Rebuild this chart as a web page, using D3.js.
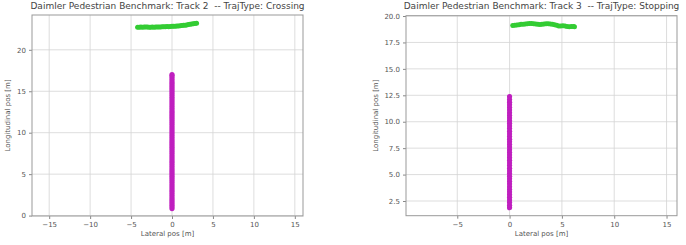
<!DOCTYPE html>
<html><head><meta charset="utf-8">
<script src="https://cdn.jsdelivr.net/npm/d3@7"></script>
<style>body{margin:0;background:#fff;}svg{display:block;font-family:"DejaVu Sans",sans-serif;}text{white-space:pre;}</style>
</head><body>
<svg id="c" width="686" height="245"></svg>
<script>
// Track 2 (Crossing)
const t2Title = "Daimler Pedestrian Benchmark: Track 2  -- TrajType: Crossing";
const t2XTicks = [-15, -10, -5, 0, 5, 10, 15];
const t2YTicks = [0, 5, 10, 15, 20];
const t2PedX = [-4.2,-4.0,-3.8,-3.6,-3.4,-3.2,-3.0,-2.8,-2.6,-2.4,-2.2,-2.0,-1.8,-1.6,-1.4,-1.2,-1.0,-0.8,-0.6,-0.4,-0.2,0.0,0.2,0.4,0.6,0.8,1.0,1.2,1.4,1.6,1.8,2.0,2.2,2.4,2.6,2.8,3.0];
const t2PedY = [22.72,22.73,22.74,22.73,22.75,22.74,22.74,22.72,22.73,22.74,22.73,22.74,22.76,22.75,22.75,22.77,22.78,22.79,22.80,22.79,22.81,22.83,22.84,22.85,22.86,22.88,22.90,22.93,22.95,22.97,23.00,23.04,23.08,23.12,23.15,23.18,23.21];
const t2EgoX = [0,0,0,0,0,0,0,0,0,0,0,0,0,0,0,0,0,0,0,0,0,0,0,0,0,0,0,0,0,0,0,0,0,0,0,0,0,0,0,0,0,0,0,0,0,0,0,0,0,0,0,0,0,0,0,0,0,0,0,0,0,0,0,0,0,0];
const t2EgoY = [0.85,1.1,1.35,1.6,1.85,2.1,2.35,2.6,2.85,3.1,3.35,3.6,3.85,4.1,4.35,4.6,4.85,5.1,5.35,5.6,5.85,6.1,6.35,6.6,6.85,7.1,7.35,7.6,7.85,8.1,8.35,8.6,8.85,9.1,9.35,9.6,9.85,10.1,10.35,10.6,10.85,11.1,11.35,11.6,11.85,12.1,12.35,12.6,12.85,13.1,13.35,13.6,13.85,14.1,14.35,14.6,14.85,15.1,15.35,15.6,15.85,16.1,16.35,16.6,16.85,17.0];
// Track 3 (Stopping)
const t3Title = "Daimler Pedestrian Benchmark: Track 3  -- TrajType: Stopping";
const t3XTicks = [-5, 0, 5, 10, 15];
const t3YTicks = [2.5, 5.0, 7.5, 10.0, 12.5, 15.0, 17.5, 20.0];
const t3PedX = [0.3,0.5,0.7,0.9,1.1,1.3,1.5,1.7,1.9,2.1,2.3,2.5,2.7,2.9,3.1,3.3,3.5,3.7,3.9,4.1,4.3,4.5,4.7,4.9,5.1,5.3,5.5,5.7,5.9,6.1,6.2];
const t3PedY = [19.10,19.12,19.15,19.18,19.21,19.23,19.24,19.27,19.29,19.30,19.28,19.25,19.22,19.20,19.21,19.24,19.27,19.26,19.25,19.22,19.18,19.12,19.06,19.05,19.08,19.06,19.02,18.99,19.00,19.01,18.98];
const t3EgoX = [0,0,0,0,0,0,0,0,0,0,0,0,0,0,0,0,0,0,0,0,0,0,0,0,0,0,0,0,0,0,0,0,0,0,0,0,0,0,0,0,0,0,0];
const t3EgoY = [1.87,2.1,2.35,2.6,2.85,3.1,3.35,3.6,3.85,4.1,4.35,4.6,4.85,5.1,5.35,5.6,5.85,6.1,6.35,6.6,6.85,7.1,7.35,7.6,7.85,8.1,8.35,8.6,8.85,9.1,9.35,9.6,9.85,10.1,10.35,10.6,10.85,11.1,11.35,11.6,11.85,12.1,12.37];

const svg = d3.select("#c");
const pedColor = "#33cc33", egoColor = "#bf1fbf";

function panel(o) {
  const g = svg.append("g");
  const x = d3.scaleLinear().domain(o.xDom).range([o.left, o.right]);
  const y = d3.scaleLinear().domain(o.yDom).range([o.bottom, o.top]);
  // grid
  g.append("g").selectAll("line").data(o.xTicks).join("line")
    .attr("x1", d => x(d)).attr("x2", d => x(d)).attr("y1", o.top).attr("y2", o.bottom)
    .attr("stroke", "#d4d4d4").attr("stroke-width", 0.8);
  g.append("g").selectAll("line").data(o.yTicks).join("line")
    .attr("y1", d => y(d)).attr("y2", d => y(d)).attr("x1", o.left).attr("x2", o.right)
    .attr("stroke", "#d4d4d4").attr("stroke-width", 0.8);
  // axes
  const xa = g.append("g").attr("transform", `translate(0,${o.bottom})`)
    .call(d3.axisBottom(x).tickValues(o.xTicks).tickSize(3).tickPadding(3).tickFormat(d => String(d).replace("-", "\u2212")));
  const ya = g.append("g").attr("transform", `translate(${o.left},0)`)
    .call(d3.axisLeft(y).tickValues(o.yTicks).tickSize(3).tickPadding(3).tickFormat(o.yFmt));
  [xa, ya].forEach(a => {
    a.select(".domain").remove();
    a.selectAll("line").attr("stroke", "#888");
    a.selectAll("text").attr("fill", "#555").attr("font-size", 7).attr("font-family", "DejaVu Sans, sans-serif");
  });
  g.append("rect").attr("x", o.left).attr("y", o.top).attr("width", o.right - o.left).attr("height", o.bottom - o.top)
    .attr("fill", "none").attr("stroke", "#999").attr("stroke-width", 1);
  // data
  const ego = o.egoX.map((v, i) => [v, o.egoY[i]]);
  const ped = o.pedX.map((v, i) => [v, o.pedY[i]]);
  g.append("g").selectAll("circle").data(ego).join("circle")
    .attr("cx", d => x(d[0])).attr("cy", d => y(d[1])).attr("r", 2.6).attr("fill", egoColor);
  g.append("g").selectAll("circle").data(ped).join("circle")
    .attr("cx", d => x(d[0])).attr("cy", d => y(d[1])).attr("r", 2.5).attr("fill", pedColor);
  // labels
  g.append("text").attr("x", (o.left + o.right) / 2).attr("y", 9).attr("text-anchor", "middle")
    .attr("font-size", 9).attr("fill", "#444").text(o.title);
  g.append("text").attr("x", (o.left + o.right) / 2).attr("y", 236).attr("text-anchor", "middle")
    .attr("font-size", 7).attr("fill", "#555").text("Lateral pos [m]");
  g.append("text").attr("transform", `translate(${o.ylabX},${(o.top + o.bottom) / 2}) rotate(-90)`)
    .attr("text-anchor", "middle").attr("font-size", 7).attr("fill", "#555").text("Longitudinal pos [m]");
}

panel({title: t2Title, xTicks: t2XTicks, yTicks: t2YTicks, xDom: [-17.1, 16.0], yDom: [-0.05, 24.2],
  left: 32, right: 303, top: 15, bottom: 216, ylabX: 10, yFmt: d3.format("d"),
  pedX: t2PedX, pedY: t2PedY, egoX: t2EgoX, egoY: t2EgoY});
panel({title: t3Title, xTicks: t3XTicks, yTicks: t3YTicks, xDom: [-9.9, 16.0], yDom: [1.11, 20.03],
  left: 406, right: 677, top: 15.7, bottom: 215.7, ylabX: 378, yFmt: d3.format(".1f"),
  pedX: t3PedX, pedY: t3PedY, egoX: t3EgoX, egoY: t3EgoY});
</script>
</body></html>
